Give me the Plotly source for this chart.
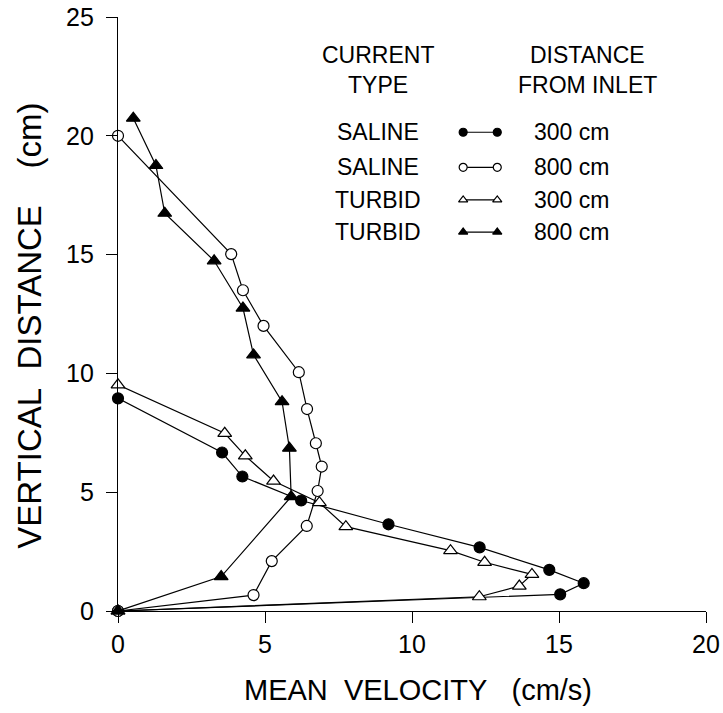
import plotly.graph_objects as go

# ---- data (mean velocity cm/s, vertical distance cm) ----
saline300_x = [0.0, 15.04, 15.84, 14.67, 12.3, 9.2, 6.23, 4.23, 3.54, 0.0]
saline300_y = [0.0, 0.70, 1.17, 1.73, 2.68, 3.65, 4.65, 5.66, 6.67, 8.95]

saline800_x = [0.0, 4.61, 5.23, 6.42, 6.79, 6.93, 6.73, 6.43, 6.15, 4.95, 4.25, 3.85, 0.0]
saline800_y = [0.0, 0.67, 2.1, 3.58, 5.05, 6.08, 7.06, 8.5, 10.05, 12.0, 13.5, 15.02, 20.0]

turbid300_x = [0.0, 12.29, 13.65, 14.08, 12.47, 11.31, 7.75, 6.85, 5.29, 4.33, 3.63, 0.0]
turbid300_y = [0.0, 0.60, 1.05, 1.54, 2.05, 2.54, 3.55, 4.56, 5.47, 6.53, 7.48, 9.52]

turbid800_x = [0.0, 3.51, 5.89, 5.83, 5.58, 4.61, 4.25, 3.27, 1.59, 1.29, 0.52]
turbid800_y = [0.0, 1.45, 4.81, 6.85, 8.81, 10.78, 12.75, 14.74, 16.74, 18.75, 20.74]

x_ticks = [0, 5, 10, 15, 20]
y_ticks = [0, 5, 10, 15, 20, 25]

legend_types = ["SALINE", "SALINE", "TURBID", "TURBID"]
legend_dists = ["300 cm", "800 cm", "300 cm", "800 cm"]

FONT = "Liberation Sans, Arial, Helvetica, sans-serif"
LW = 1.2

styles = [
    dict(symbol="circle", color="black", size=11),
    dict(symbol="circle", color="white", size=11),
    dict(symbol="triangle-up", color="white", size=12),
    dict(symbol="triangle-up", color="black", size=12),
]
series = [
    (saline300_x, saline300_y),
    (saline800_x, saline800_y),
    (turbid300_x, turbid300_y),
    (turbid800_x, turbid800_y),
]

fig = go.Figure()
for (xs, ys), st in zip(series, styles):
    fig.add_trace(go.Scatter(
        x=xs, y=ys, mode="lines+markers",
        line=dict(color="black", width=LW),
        marker=dict(symbol=st["symbol"], size=st["size"], color=st["color"],
                    line=dict(color="black", width=LW)),
        cliponaxis=False, showlegend=False, hoverinfo="x+y",
    ))

# ---- custom legend (overlay axes 0..1) ----
row_y = [0.806, 0.747, 0.692, 0.638]
for i, st in enumerate(styles):
    fig.add_trace(go.Scatter(
        x=[0.587, 0.645], y=[row_y[i], row_y[i]], xaxis="x2", yaxis="y2",
        mode="lines+markers",
        line=dict(color="black", width=LW),
        marker=dict(symbol=st["symbol"], size=8, color=st["color"],
                    line=dict(color="black", width=LW)),
        cliponaxis=False, showlegend=False, hoverinfo="skip",
    ))

annotations = []
def ann(text, x, y, xanchor="center", size=23, angle=0):
    annotations.append(dict(text=text, x=x, y=y, xref="paper", yref="paper",
                            xanchor=xanchor, yanchor="middle", showarrow=False,
                            textangle=angle,
                            font=dict(family=FONT, size=size, color="black")))

NB = "\u00a0"
ann("CURRENT", 0.442, 0.936)
ann("TYPE", 0.442, 0.886)
ann("DISTANCE", 0.799, 0.936)
ann("FROM" + NB + "INLET", 0.799, 0.886)
for i in range(4):
    ann(legend_types[i], 0.442, row_y[i])
    ann(legend_dists[i].replace(" ", NB), 0.704, row_y[i], xanchor="left")

# axis titles
ann("MEAN" + NB * 2 + "VELOCITY" + NB * 3 + "(cm/s)", 0.51, -0.133, size=29)
ann("VERTICAL" + NB * 2 + "DISTANCE" + NB * 4 + "(cm)", -0.150, 0.48, size=33, angle=-90)

axis_common = dict(showline=True, linecolor="black", linewidth=LW,
                   ticks="outside", ticklen=11, tickwidth=LW, tickcolor="black",
                   showgrid=False, zeroline=False, automargin=False,
                   tickfont=dict(family=FONT, size=25, color="black"))

fig.update_layout(
    width=723, height=713,
    margin=dict(l=118, r=17, t=17, b=102),
    paper_bgcolor="white", plot_bgcolor="white",
    xaxis=dict(range=[0, 20], tickvals=x_ticks, ticklabelstandoff=0, **axis_common),
    yaxis=dict(range=[0, 25], tickvals=y_ticks, ticklabelstandoff=7, **axis_common),
    xaxis2=dict(range=[0, 1], overlaying="x", visible=False, anchor="y2"),
    yaxis2=dict(range=[0, 1], overlaying="y", visible=False, anchor="x2"),
    annotations=annotations,
    showlegend=False,
)

fig.write_html("out.html")
